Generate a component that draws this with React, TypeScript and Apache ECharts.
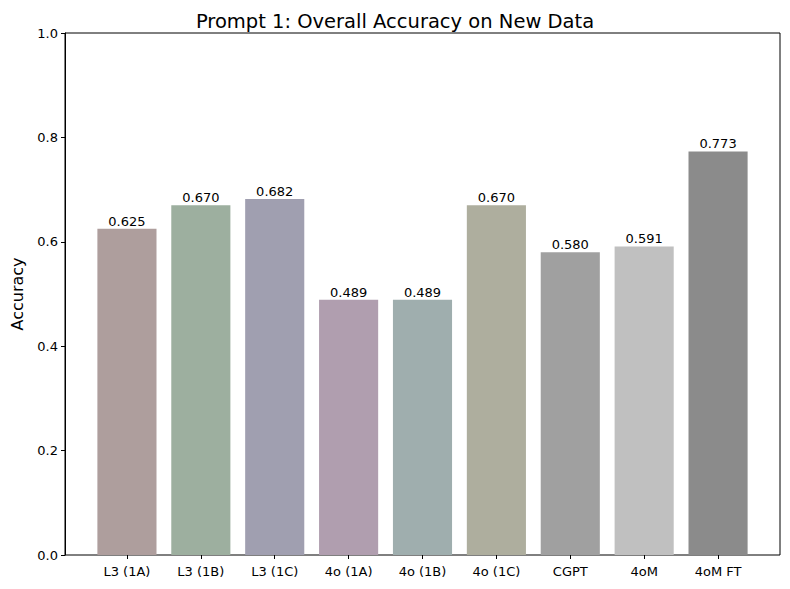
import React, { useEffect, useRef } from "react";
import * as echarts from "echarts";

const categories = ["L3 (1A)", "L3 (1B)", "L3 (1C)", "4o (1A)", "4o (1B)", "4o (1C)", "CGPT", "4oM", "4oM FT"];
const accuracy = [0.625, 0.67, 0.682, 0.489, 0.489, 0.67, 0.58, 0.591, 0.773];
const barColors = ["#ae9e9d", "#9daf9f", "#a09fb0", "#b09eaf", "#9faeae", "#aeae9e", "#a0a0a0", "#c0c0c0", "#8b8b8b"];
const yTicks = [0, 0.2, 0.4, 0.6, 0.8, 1.0];

const FONT = "DejaVu Sans";

export default function App() {
  const ref = useRef<HTMLDivElement>(null);
  useEffect(() => {
    const chart = echarts.init(ref.current!, null, { renderer: "svg" });
    chart.setOption({
      animation: false,
      title: {
        text: "Prompt 1: Overall Accuracy on New Data",
        left: "center",
        top: 6,
        textStyle: { fontFamily: FONT, fontSize: 19.5, fontWeight: "normal", color: "#000" },
      },
      grid: [
        { left: 65, right: 10, top: 33, bottom: 34, show: true, borderColor: "#000", borderWidth: 1, backgroundColor: "transparent" },
        { left: 90, right: 35, top: 33, bottom: 34 },
      ],
      xAxis: [
        { type: "value", gridIndex: 0, show: false, min: 0, max: 1 },
        {
          type: "category",
          gridIndex: 1,
          data: categories,
          axisLine: { show: false },
          axisTick: { show: true, alignWithLabel: true, length: 4, lineStyle: { color: "#000" } },
          axisLabel: { fontFamily: FONT, fontSize: 13, color: "#000", margin: 10 },
        },
      ],
      yAxis: [
        {
          type: "value",
          gridIndex: 0,
          min: 0,
          max: 1,
          interval: 0.2,
          name: "Accuracy",
          nameLocation: "middle",
          nameGap: 40,
          nameTextStyle: { fontFamily: FONT, fontSize: 16, color: "#000" },
          axisLine: { show: true, lineStyle: { color: "#000" } },
          axisTick: { show: true, length: 4, lineStyle: { color: "#000" } },
          axisLabel: {
            fontFamily: FONT,
            fontSize: 13,
            color: "#000",
            margin: 7,
            formatter: (v: number) => (yTicks.some((t) => Math.abs(t - v) < 1e-9) ? v.toFixed(1) : ""),
          },
          splitLine: { show: false },
        },
        { type: "value", gridIndex: 1, min: 0, max: 1, show: false },
      ],
      series: [
        {
          type: "bar",
          xAxisIndex: 1,
          yAxisIndex: 1,
          barWidth: "80%",
          data: accuracy.map((v, i) => ({ value: v, itemStyle: { color: barColors[i] } })),
          label: {
            show: true,
            position: "top",
            distance: 1,
            fontFamily: FONT,
            fontSize: 13,
            color: "#000",
            formatter: (p: any) => Number(p.value).toFixed(3),
          },
        },
      ],
    });
    return () => chart.dispose();
  }, []);
  return <div ref={ref} style={{ width: 790, height: 589, position: "absolute", left: 0, top: 0 }} />;
}
